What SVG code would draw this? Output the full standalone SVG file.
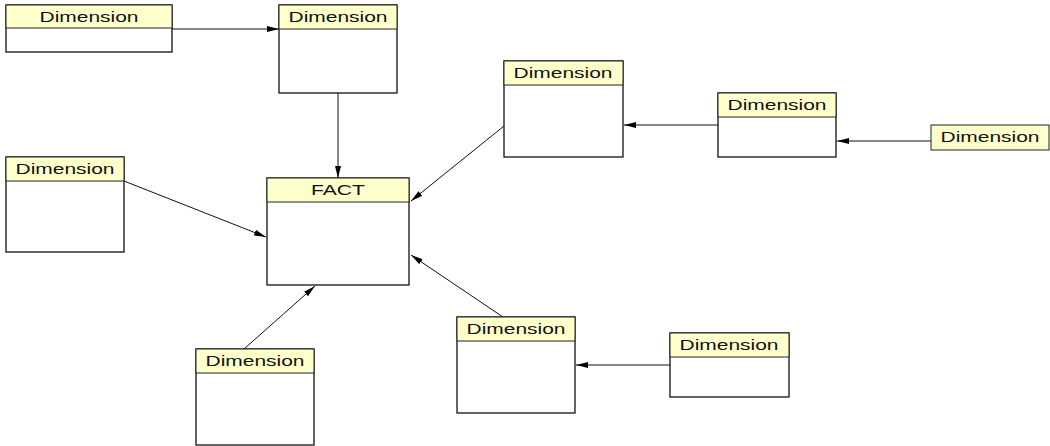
<svg xmlns="http://www.w3.org/2000/svg" width="1050" height="446" viewBox="0 0 1050 446">
<style>
.hd{fill:#ffffcc;stroke:#222;stroke-width:1}
.bd{fill:#fff;stroke:#111;stroke-width:1.3}
.t{font-family:"Liberation Sans",Arial,sans-serif;font-size:15px;fill:#111;text-anchor:middle}
.c{stroke:#111;stroke-width:1;fill:none;marker-end:url(#ah)}
</style>
<defs>
<marker id="ah" viewBox="0 0 12 6" refX="12" refY="3" markerWidth="12" markerHeight="6" markerUnits="userSpaceOnUse" orient="auto">
<path d="M0,0 L12,3 L0,6 z" fill="#000"/>
</marker>
</defs>
<rect width="1050" height="446" fill="#fff"/>
<g id="connectors">
<line class="c" x1="172" y1="29" x2="279" y2="29"/>
<line class="c" x1="338" y1="93" x2="338" y2="178"/>
<line class="c" x1="124" y1="181" x2="266" y2="237"/>
<line class="c" x1="504" y1="126" x2="411" y2="201"/>
<line class="c" x1="718" y1="125" x2="624" y2="125"/>
<line class="c" x1="931" y1="141" x2="837" y2="141"/>
<line class="c" x1="244" y1="349" x2="315" y2="286"/>
<line class="c" x1="503" y1="317" x2="411" y2="255"/>
<line class="c" x1="670" y1="365" x2="576" y2="365"/>
</g>
<g id="dimA"><rect class="bd" x="6" y="5" width="166" height="47"/><rect class="hd" x="6" y="5" width="166" height="23"/><text class="t" x="89" y="22" textLength="99" lengthAdjust="spacingAndGlyphs">Dimension</text></g>
<g id="dimB"><rect class="bd" x="279" y="5" width="118" height="88"/><rect class="hd" x="279" y="5" width="118" height="24"/><text class="t" x="338" y="22" textLength="99" lengthAdjust="spacingAndGlyphs">Dimension</text></g>
<g id="dimC"><rect class="bd" x="6" y="157" width="118" height="95"/><rect class="hd" x="6" y="157" width="118" height="24"/><text class="t" x="65" y="174" textLength="99" lengthAdjust="spacingAndGlyphs">Dimension</text></g>
<g id="fact"><rect class="bd" x="267" y="178" width="142" height="107"/><rect class="hd" x="267" y="178" width="142" height="24"/><text class="t" x="338" y="195" textLength="54" lengthAdjust="spacingAndGlyphs">FACT</text></g>
<g id="dimD"><rect class="bd" x="504" y="61" width="119" height="96"/><rect class="hd" x="504" y="61" width="119" height="24"/><text class="t" x="563" y="78" textLength="99" lengthAdjust="spacingAndGlyphs">Dimension</text></g>
<g id="dimE"><rect class="bd" x="718" y="93" width="118" height="64"/><rect class="hd" x="718" y="93" width="118" height="24"/><text class="t" x="777" y="110" textLength="99" lengthAdjust="spacingAndGlyphs">Dimension</text></g>
<g id="dimF"><rect class="hd" x="931" y="125" width="118" height="25"/><text class="t" x="990" y="142" textLength="99" lengthAdjust="spacingAndGlyphs">Dimension</text></g>
<g id="dimG"><rect class="bd" x="196" y="349" width="118" height="96"/><rect class="hd" x="196" y="349" width="118" height="24"/><text class="t" x="255" y="366" textLength="99" lengthAdjust="spacingAndGlyphs">Dimension</text></g>
<g id="dimH"><rect class="bd" x="457" y="317" width="118" height="96"/><rect class="hd" x="457" y="317" width="118" height="24"/><text class="t" x="516" y="334" textLength="99" lengthAdjust="spacingAndGlyphs">Dimension</text></g>
<g id="dimI"><rect class="bd" x="670" y="333" width="119" height="64"/><rect class="hd" x="670" y="333" width="119" height="24"/><text class="t" x="729" y="350" textLength="99" lengthAdjust="spacingAndGlyphs">Dimension</text></g>
</svg>
